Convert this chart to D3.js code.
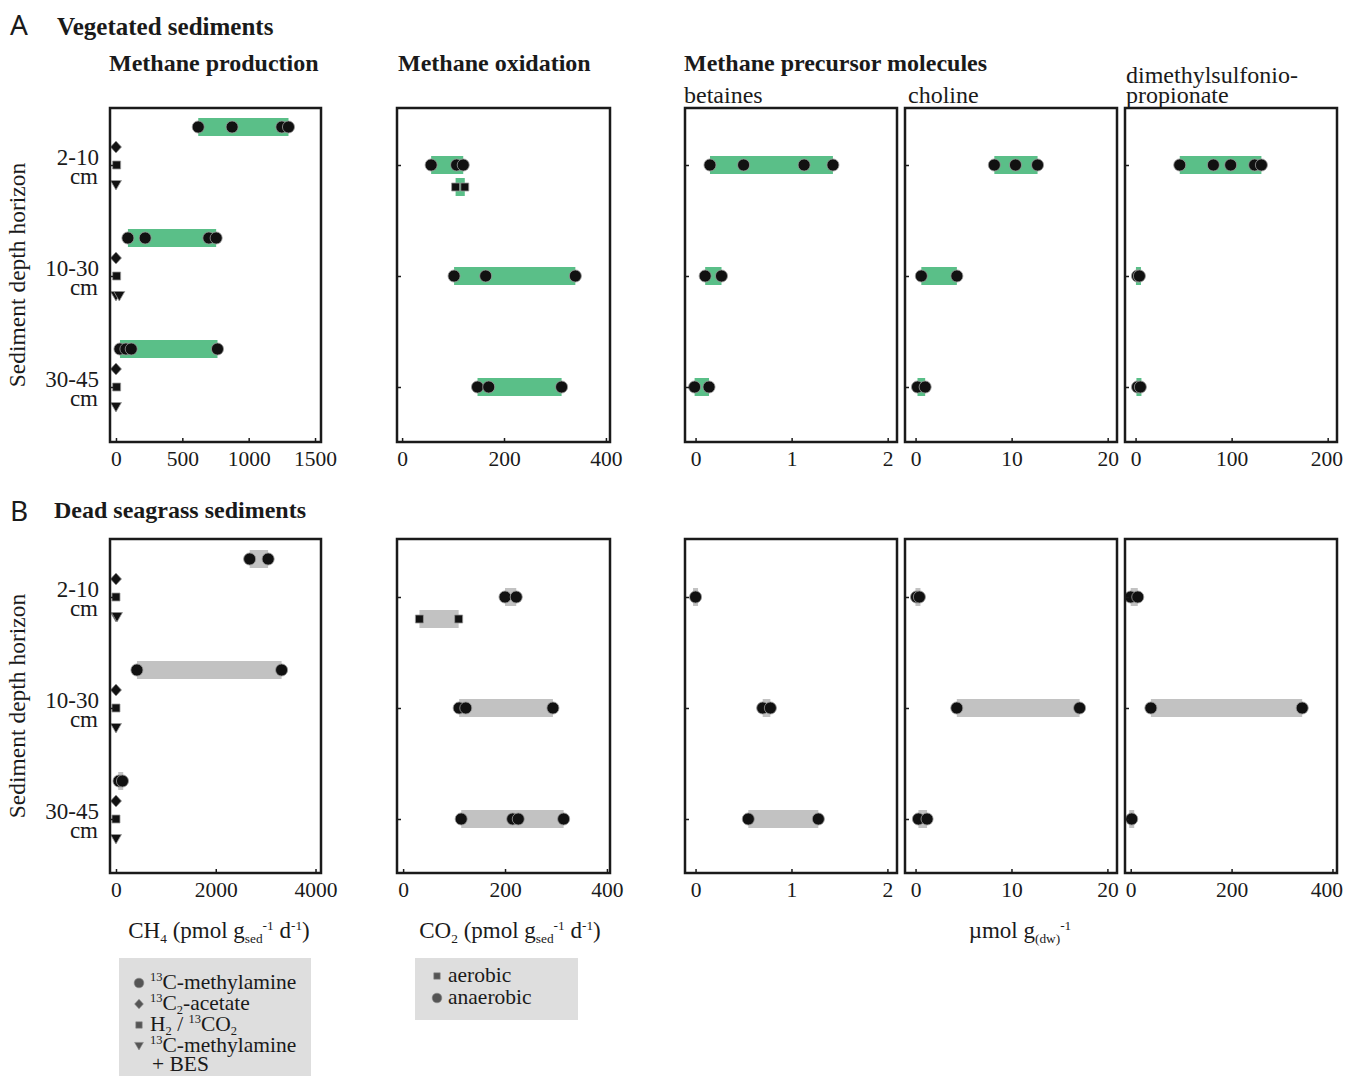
<!DOCTYPE html>
<html>
<head>
<meta charset="utf-8">
<script src="https://cdn.jsdelivr.net/npm/d3@7"></script>
<style>
  body { margin: 0; background: #fff; }
  svg { font-family: "Liberation Serif", "Times New Roman", serif; }
</style>
</head>
<body>
<svg id="chart" width="1345" height="1076"></svg>
<script>
const depths = ["2-10", "10-30", "30-45"];

// A: vegetated sediments
const vegMethylamine = [[620, 875, 1250, 1300], [90, 220, 700, 755], [30, 75, 115, 765]];
const vegAcetate = [[0], [0], [0]];
const vegH2CO2 = [[5], [5], [5]];
const vegBES = [[0], [0, 25], [0]];
const vegAnaerobic = [[57, 107, 120], [102, 164, 340], [148, 170, 313]];
const vegAerobic = [[105, 123], [], []];
const vegBetaines = [[0.15, 0.5, 1.13, 1.43], [0.1, 0.27], [-0.01, 0.14]];
const vegCholine = [[8.2, 10.4, 12.7], [0.6, 4.3], [0.2, 1.0]];
const vegDMSP = [[46, 81, 99, 124, 131], [2, 4], [2, 5]];

// B: dead seagrass sediments
const deadMethylamine = [[2680, 3050], [420, 3320], [60, 130]];
const deadAcetate = [[0], [0], [0]];
const deadH2CO2 = [[0], [0], [0]];
const deadBES = [[0, 20], [0], [0]];
const deadAnaerobic = [[200, 222], [110, 123, 294], [114, 215, 226, 315]];
const deadAerobic = [[32, 109], [], []];
const deadBetaines = [[0], [0.7, 0.78], [0.55, 1.28]];
const deadCholine = [[0.1, 0.4], [4.3, 17.1], [0.3, 1.2]];
const deadDMSP = [[0, 14], [40, 340], [2]];

const ticksProdVeg = [0, 500, 1000, 1500];
const ticksProdDead = [0, 2000, 4000];
const ticksOx = [0, 200, 400];
const ticksBet = [0, 1, 2];
const ticksCho = [0, 10, 20];
const ticksDmspVeg = [0, 100, 200];
const ticksDmspDead = [0, 200, 400];

const svg = d3.select("#chart");
const GREEN = "#5abf88", GREY = "#c2c2c2", INK = "#1a1a1a";
const W = 1345;

const cols = [[110, 321], [397, 610], [685, 897], [905, 1117], [1125, 1337]];
const blocks = {
  A: { centers: [165, 387], box: [108, 442], band: GREEN },
  B: { centers: [597, 819], box: [539, 873], band: GREY }
};

const prodSeries = (c, a, h, b) => [
  { data: c, shape: "circle", dy: -38, band: true },
  { data: a, shape: "diamond", dy: -18 },
  { data: h, shape: "square", dy: 0 },
  { data: b, shape: "triangle", dy: 20 }
];
const oxSeries = (an, ae) => [
  { data: ae, shape: "square", dy: 22, band: true },
  { data: an, shape: "circle", dy: 0, band: true }
];
const one = d => [{ data: d, shape: "circle", dy: 0, band: true }];

const panels = [
  { block: "A", col: 0, domain: [-45, 1545], ticks: ticksProdVeg, series: prodSeries(vegMethylamine, vegAcetate, vegH2CO2, vegBES) },
  { block: "A", col: 1, domain: [-10, 408], ticks: ticksOx, series: oxSeries(vegAnaerobic, vegAerobic) },
  { block: "A", col: 2, domain: [-0.11, 2.097], ticks: ticksBet, series: one(vegBetaines) },
  { block: "A", col: 3, domain: [-1.1, 20.97], ticks: ticksCho, series: one(vegCholine) },
  { block: "A", col: 4, domain: [-11, 209.7], ticks: ticksDmspVeg, series: one(vegDMSP) },
  { block: "B", col: 0, domain: [-120, 4110], ticks: ticksProdDead, series: prodSeries(deadMethylamine, deadAcetate, deadH2CO2, deadBES) },
  { block: "B", col: 1, domain: [-12, 406], ticks: ticksOx, series: oxSeries(deadAnaerobic, deadAerobic) },
  { block: "B", col: 2, domain: [-0.11, 2.1], ticks: ticksBet, series: one(deadBetaines) },
  { block: "B", col: 3, domain: [-1.1, 21], ticks: ticksCho, series: one(deadCholine) },
  { block: "B", col: 4, domain: [-11.3, 409], ticks: ticksDmspDead, series: one(deadDMSP) }
];

function shapePath(shape, k) {
  k = k || 1;
  if (shape === "circle") return d3.symbol().type(d3.symbolCircle).size(115 * k * k)();
  if (shape === "square") return d3.symbol().type(d3.symbolSquare).size(64 * k * k)();
  if (shape === "diamond") return `M0,${-6 * k}L${5.5 * k},0L0,${6 * k}L${-5.5 * k},0Z`;
  return `M${-5.5 * k},${-4.5 * k}L${5.5 * k},${-4.5 * k}L0,${5 * k}Z`;
}

panels.forEach(p => {
  const b = blocks[p.block];
  const [x0, x1] = cols[p.col];
  const x = d3.scaleLinear().domain(p.domain).range([x0, x1]);
  const y = d3.scalePoint().domain(depths).range(b.centers);
  const g = svg.append("g");

  // bands (min..max of the replicates)
  p.series.filter(s => s.band).forEach(s => {
    g.selectAll(null)
      .data(s.data.map((vals, i) => ({ vals, depth: depths[i] })).filter(d => d.vals.length))
      .enter().append("rect")
      .attr("fill", b.band)
      .each(function (d) {
        let a = x(d3.min(d.vals)), c = x(d3.max(d.vals));
        if (c - a < 5) { const m = (a + c) / 2; a = m - 2.5; c = m + 2.5; }
        d3.select(this)
          .attr("x", a).attr("width", c - a)
          .attr("y", y(d.depth) + s.dy - 9).attr("height", 18);
      });
  });

  // markers
  p.series.forEach(s => {
    const pts = [];
    s.data.forEach((vals, i) => vals.forEach(v => pts.push({ v, depth: depths[i] })));
    g.selectAll(null).data(pts).enter().append("path")
      .attr("d", shapePath(s.shape))
      .attr("transform", d => `translate(${x(d.v)},${y(d.depth) + s.dy})`)
      .attr("fill", "#111")
      .attr("stroke", "#9a9a9a")
      .attr("stroke-width", 0.8);
  });

  // frame
  g.append("rect")
    .attr("x", x0).attr("y", b.box[0])
    .attr("width", x1 - x0).attr("height", b.box[1] - b.box[0])
    .attr("fill", "none").attr("stroke", INK).attr("stroke-width", 2.5);

  // x axis
  const ax = g.append("g")
    .attr("transform", `translate(0,${b.box[1]})`)
    .call(d3.axisBottom(x).tickValues(p.ticks).tickFormat(d3.format("d"))
      .tickSizeInner(-4).tickSizeOuter(0).tickPadding(9));
  ax.select(".domain").remove();
  ax.selectAll("line").attr("stroke", INK).attr("stroke-width", 1.5);
  ax.selectAll("text").attr("font-size", 21.5).attr("font-family", "Liberation Serif").attr("fill", INK)
    .each(function () {
      const bb = this.getBoundingClientRect();
      if (bb.right > W - 2) d3.select(this).attr("dx", (W - 2 - bb.right) + "px");
    });

  // y axis ticks
  const ay = g.append("g")
    .attr("transform", `translate(${x0},0)`)
    .call(d3.axisLeft(y).tickSizeInner(-4).tickSizeOuter(0).tickFormat(""));
  ay.select(".domain").remove();
  ay.selectAll("line").attr("stroke", INK).attr("stroke-width", 1.5);

  // row labels
  if (p.col === 0) {
    depths.forEach(dp => {
      const t = svg.append("text").attr("text-anchor", "end").attr("font-size", 23).attr("fill", INK);
      t.append("tspan").attr("x", 99).attr("y", y(dp)).text(dp);
      t.append("tspan").attr("x", 98).attr("y", y(dp) + 19).text("cm");
    });
    svg.append("text")
      .attr("transform", `translate(25,${(b.box[0] + b.box[1]) / 2}) rotate(-90)`)
      .attr("text-anchor", "middle").attr("font-size", 23.5).attr("fill", INK)
      .text("Sediment depth horizon");
  }
});

// headings
const head = (txt, x, y, size, weight, fam) => svg.append("text")
  .attr("x", x).attr("y", y).attr("font-size", size).attr("font-weight", weight || "normal")
  .attr("font-family", fam || null).attr("fill", INK).text(txt);

head("A", 10, 35, 28, "normal", "Noto Sans");
head("Vegetated sediments", 57, 35, 25, "bold");
head("Methane production", 109, 71, 24, "bold");
head("Methane oxidation", 398, 71, 24, "bold");
head("Methane precursor molecules", 684, 71, 24, "bold");
head("betaines", 684, 103, 24);
head("choline", 908, 103, 24);
head("dimethylsulfonio-", 1126, 83, 24);
head("propionate", 1126, 103, 24);
head("B", 10, 521, 28, "normal", "Noto Sans");
head("Dead seagrass sediments", 54, 518, 24, "bold");

// rich text with sub/superscripts
function rich(x, y, parts, size, anchor) {
  const t = svg.append("text").attr("x", x).attr("y", y).attr("font-size", size)
    .attr("text-anchor", anchor || "start").attr("fill", INK);
  let shift = 0;
  parts.forEach(([s, kind]) => {
    const target = kind === "sub" ? size * 0.2 : kind === "sup" ? -size * 0.35 : 0;
    const ts = t.append("tspan").text(s).attr("dy", target - shift);
    if (kind) ts.attr("font-size", size * 0.58);
    shift = target;
  });
  return t;
}

rich(219, 938, [["CH"], ["4", "sub"], [" (pmol g"], ["sed", "sub"], ["-1", "sup"], [" d"], ["-1", "sup"], [")"]], 23, "middle");
rich(510, 938, [["CO"], ["2", "sub"], [" (pmol g"], ["sed", "sub"], ["-1", "sup"], [" d"], ["-1", "sup"], [")"]], 23, "middle");
rich(1020, 938, [["µmol g"], ["(dw)", "sub"], ["-1", "sup"]], 23, "middle");

// legends
svg.append("rect").attr("x", 119).attr("y", 958).attr("width", 192).attr("height", 130).attr("fill", "#dedede");
svg.append("rect").attr("x", 415).attr("y", 958).attr("width", 163).attr("height", 62).attr("fill", "#dedede");

const legProd = [
  { shape: "circle", parts: [["13", "sup"], ["C-methylamine"]] },
  { shape: "diamond", parts: [["13", "sup"], ["C"], ["2", "sub"], ["-acetate"]] },
  { shape: "square", parts: [["H"], ["2", "sub"], [" / "], ["13", "sup"], ["CO"], ["2", "sub"]] },
  { shape: "triangle", parts: [["13", "sup"], ["C-methylamine"]] }
];
const legOx = [
  { shape: "square", parts: [["aerobic"]] },
  { shape: "circle", parts: [["anaerobic"]] }
];
function legend(items, x, y0, step) {
  items.forEach((it, i) => {
    const yy = y0 + i * step;
    svg.append("path").attr("d", shapePath(it.shape, 0.8))
      .attr("transform", `translate(${x},${yy - 6})`)
      .attr("fill", "#555").attr("stroke", "#888").attr("stroke-width", 0.6);
    rich(x + 11, yy, it.parts, 21.5);
  });
}
legend(legProd, 139, 989, 21);
rich(152, 1071, [["+ BES"]], 21.5);
legend(legOx, 437, 982, 22);
</script>
</body>
</html>
